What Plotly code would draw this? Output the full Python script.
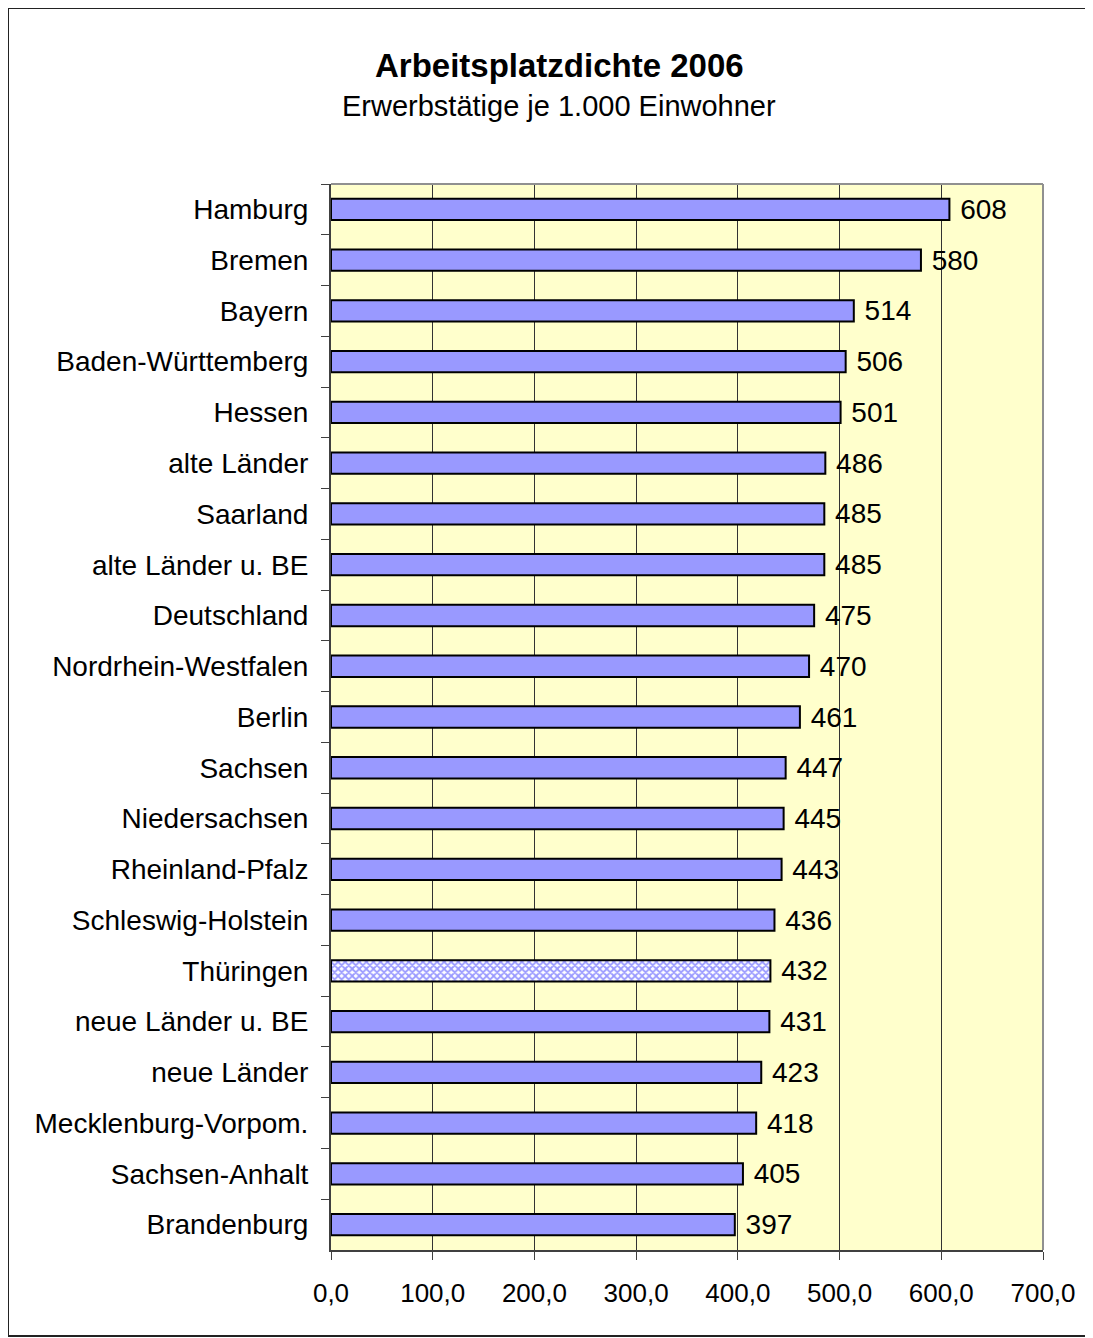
import plotly.graph_objects as go

categories = ["Hamburg", "Bremen", "Bayern", "Baden-Württemberg", "Hessen", "alte Länder",
              "Saarland", "alte Länder u. BE", "Deutschland", "Nordrhein-Westfalen", "Berlin",
              "Sachsen", "Niedersachsen", "Rheinland-Pfalz", "Schleswig-Holstein", "Thüringen",
              "neue Länder u. BE", "neue Länder", "Mecklenburg-Vorpom.", "Sachsen-Anhalt", "Brandenburg"]
values = [608, 580, 514, 506, 501, 486, 485, 485, 475, 470, 461, 447, 445, 443, 436, 432,
          431, 423, 418, 405, 397]
highlight = "Thüringen"
x_ticks = [0, 100, 200, 300, 400, 500, 600, 700]
title_text = "Arbeitsplatzdichte 2006"
subtitle_text = "Erwerbstätige je 1.000 Einwohner"

OFF = 8  # page body margin
W, H = 1093 - OFF, 1338 - OFF
L, R, T, B = 331 - OFF, 1043 - OFF, 184 - OFF, 1250 - OFF

font_main = "Liberation Sans, Arial, sans-serif"

shapes_arr = ["x" if c == highlight else "" for c in categories]
bg_arr = ["white" if c == highlight else "#9999FF" for c in categories]

fig = go.Figure()
fig.add_trace(go.Bar(
    x=values, y=categories, orientation="h",
    width=0.42,
    marker=dict(color="#9999FF", line=dict(color="black", width=2),
                pattern=dict(shape=shapes_arr, fgcolor="#9999FF", bgcolor=bg_arr,
                             size=5, solidity=0.6, fillmode="replace")),
    text=values, texttemplate="\u00a0%{text}", textposition="outside",
    constraintext="none",
    textfont=dict(family=font_main, size=28, color="black"),
    cliponaxis=False, showlegend=False,
))

pw, ph = R - L, B - T
fig.update_layout(
    width=W, height=H,
    margin=dict(l=L, r=W - R, t=T, b=H - B, autoexpand=False),
    paper_bgcolor="white", plot_bgcolor="#FFFFCC",
    separators=",.",
    font=dict(family=font_main, color="black"),
    xaxis=dict(range=[0, 700], tickvals=x_ticks, tickformat=".1f",
               showgrid=True, gridcolor="#333333", gridwidth=1,
               ticks="outside", ticklen=8, tickcolor="#404040", tickwidth=1,
               showline=True, linecolor="#404040", linewidth=2,
               tickfont=dict(size=26, family=font_main), ticklabelstandoff=11,
               zeroline=False, fixedrange=True),
    yaxis=dict(autorange="reversed", ticks="outside", tickson="boundaries", ticklen=8,
               tickcolor="#404040", tickwidth=1,
               showline=True, linecolor="#404040", linewidth=2, showgrid=False,
               tickfont=dict(size=28, family=font_main), ticklabelstandoff=15),
    shapes=[
        dict(type="line", xref="paper", yref="paper", x0=0, x1=1, y0=1, y1=1,
             line=dict(color="#909090", width=2)),
        dict(type="line", xref="paper", yref="paper", x0=1, x1=1, y0=0, y1=1,
             line=dict(color="#909090", width=2)),
        dict(type="rect", xref="paper", yref="paper",
             x0=(0 - L) / pw, x1=(1084 - L) / pw,
             y0=(B - 1328) / ph, y1=(B - 0) / ph,
             line=dict(color="#222222", width=2), fillcolor="rgba(0,0,0,0)", layer="below"),
    ],
    annotations=[
        dict(text="<b>" + title_text + "</b>", xref="paper", yref="paper",
             x=(559 - OFF - L) / pw, y=(B - (66 - OFF)) / ph, showarrow=False,
             xanchor="center", yanchor="middle", font=dict(size=33, family=font_main)),
        dict(text=subtitle_text, xref="paper", yref="paper",
             x=(559 - OFF - L) / pw, y=(B - (106 - OFF)) / ph, showarrow=False,
             xanchor="center", yanchor="middle", font=dict(size=29, family=font_main)),
    ],
)

fig.write_html("out.html")
